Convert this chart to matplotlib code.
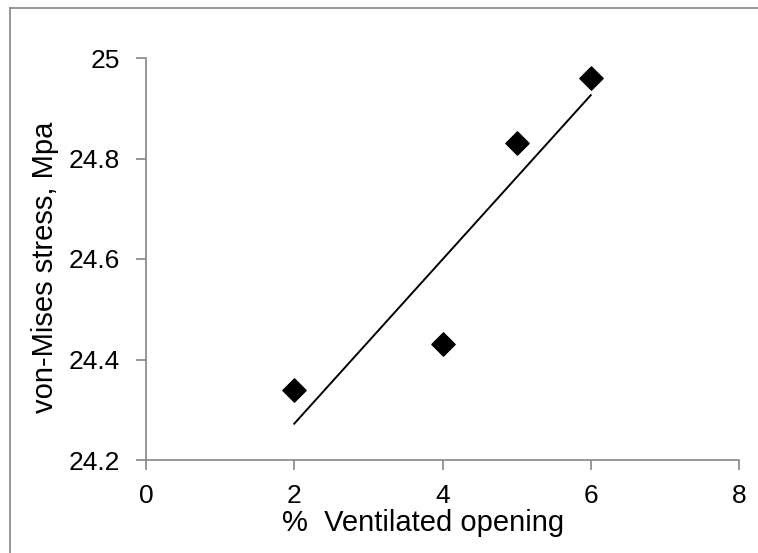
import numpy as np
import matplotlib.pyplot as plt
from matplotlib.lines import Line2D

# data
opening = [2, 4, 5, 6]
stress = [24.34, 24.43, 24.83, 24.96]
x_ticks = [0, 2, 4, 6, 8]
y_ticks = [24.2, 24.4, 24.6, 24.8, 25.0]
y_tick_labels = ["24.2", "24.4", "24.6", "24.8", "25"]

plt.rcParams["font.family"] = ["Liberation Sans", "DejaVu Sans"]
gray = "#868686"

fig = plt.figure(figsize=(7.58, 5.53), dpi=100)
ax = fig.add_axes([146 / 758, 1 - 460 / 553, (739 - 146) / 758, (460 - 58) / 553])

# outer chart border (only left and top show in the picture)
bx, by = 10 / 758, 1 - 8 / 553
fig.lines.append(Line2D([bx, bx], [0, by], transform=fig.transFigure,
                        color=gray, linewidth=1.2))
fig.lines.append(Line2D([bx, 1], [by, by], transform=fig.transFigure,
                        color=gray, linewidth=1.2))

ax.scatter(opening, stress, marker="D", s=140, color="black", zorder=3)

# linear trendline
slope, intercept = np.polyfit(opening, stress, 1)
xs = np.array([min(opening), max(opening)])
ax.plot(xs, slope * xs + intercept, color="black", linewidth=1.4)

ax.set_xlim(0, 8)
ax.set_ylim(24.2, 25.0)
ax.set_xticks(x_ticks)
ax.set_yticks(y_ticks)
ax.set_yticklabels(y_tick_labels)

for side in ["top", "right"]:
    ax.spines[side].set_visible(False)
for side in ["left", "bottom"]:
    ax.spines[side].set_color(gray)
    ax.spines[side].set_linewidth(1.2)
ax.tick_params(direction="out", length=7, width=1.2, color=gray, labelsize=19)
ax.tick_params(axis="x", pad=10)
ax.tick_params(axis="y", pad=12)

ax.set_xlabel("%  Ventilated opening", fontsize=21)
ax.set_ylabel("von-Mises stress, Mpa", fontsize=21)
ax.xaxis.set_label_coords((423 - 146) / 593, -(523 - 460) / 402)
ax.yaxis.set_label_coords(-(146 - 45) / 593, (460 - 267) / 402)
ax.xaxis.label.set_va("center")
ax.yaxis.label.set_va("center")

fig.savefig("out.png", dpi=100)
